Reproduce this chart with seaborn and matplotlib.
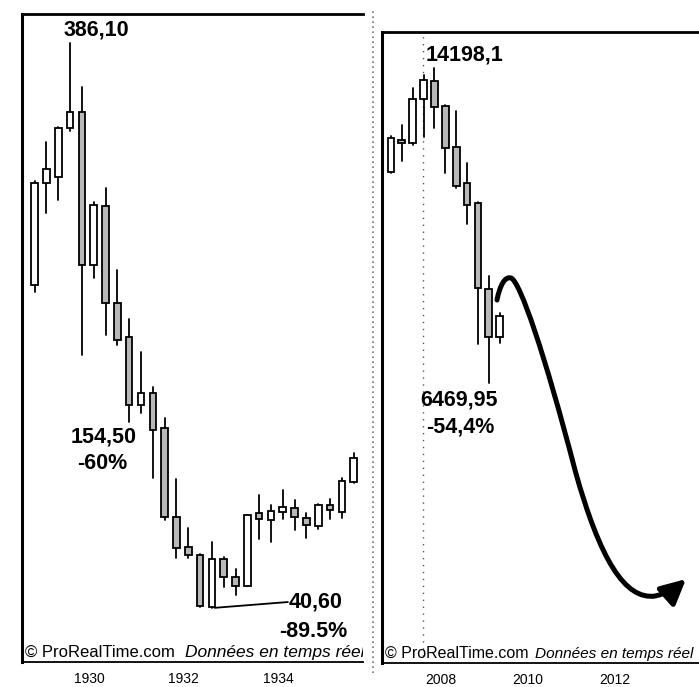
import numpy as np
import pandas as pd
import matplotlib
matplotlib.use("Agg")
import matplotlib.pyplot as plt
import seaborn as sns
from matplotlib.path import Path
from matplotlib.patches import FancyArrowPatch
from matplotlib.lines import Line2D

# Dow Jones, chandeliers trimestriels 1928-1935
quarters_1929 = ["1928-Q4", "1929-Q1", "1929-Q2", "1929-Q3", "1929-Q4",
                 "1930-Q1", "1930-Q2", "1930-Q3", "1930-Q4",
                 "1931-Q1", "1931-Q2", "1931-Q3", "1931-Q4",
                 "1932-Q1", "1932-Q2", "1932-Q3", "1932-Q4",
                 "1933-Q1", "1933-Q2", "1933-Q3", "1933-Q4",
                 "1934-Q1", "1934-Q2", "1934-Q3", "1934-Q4",
                 "1935-Q1", "1935-Q2", "1935-Q3"]
open_1929 = [238.2, 300.6, 304.2, 334.2, 344.0, 250.4, 286.5, 227.1, 206.4,
             164.8, 172.1, 150.7, 96.3, 77.9, 73.0, 41.2, 70.6, 59.6, 54.1,
             98.7, 94.4, 99.3, 101.8, 95.6, 90.8, 103.6, 99.3, 117.7]
high_1929 = [301.8, 325.6, 335.0, 386.1, 359.3, 288.9, 297.5, 247.3, 217.4,
             197.2, 175.8, 156.8, 119.5, 89.5, 73.5, 81.0, 71.8, 64.5, 97.8,
             109.7, 103.6, 112.8, 106.7, 98.7, 104.0, 107.3, 120.1, 135.4]
low_1929 = [233.9, 282.2, 290.1, 332.3, 195.3, 242.4, 207.6, 201.5, 154.5,
            159.9, 120.1, 94.4, 71.2, 71.2, 41.2, 40.6, 53.4, 48.5, 53.8,
            82.8, 81.0, 95.0, 88.3, 83.4, 88.9, 95.0, 95.6, 117.2]
close_1929 = [300.6, 309.1, 334.2, 344.0, 250.4, 287.1, 227.1, 204.5, 164.8,
              172.1, 149.5, 96.3, 77.3, 73.0, 41.8, 70.6, 59.6, 54.1, 97.5,
              95.0, 99.9, 102.4, 96.3, 91.4, 103.6, 100.5, 118.3, 132.3]

# Dow Jones, chandeliers trimestriels 2006-2009
quarters_2008 = ["2006-Q4", "2007-Q1", "2007-Q2", "2007-Q3", "2007-Q4",
                 "2008-Q1", "2008-Q2", "2008-Q3", "2008-Q4",
                 "2009-Q1", "2009-Q2"]
open_2008 = [11646, 12431, 12357, 13436, 13878, 13265, 12259, 11376, 10885, 8776, 7598]
high_2008 = [12529, 12799, 13706, 14025, 14198.1, 13290, 13142, 11867, 10900, 9095, 8187]
low_2008 = [11620, 11916, 12300, 12504, 12725, 11621, 11253, 10370, 7427, 6469.95, 7451]
close_2008 = [12480, 12357, 13436, 13903, 13240, 12234, 11302, 10836, 8800, 7598, 8113]

years_1929 = [1930, 1932, 1934]
years_2008 = [2008, 2010, 2012]

# fleche de projection dessinee a la main (annee, points)
proj_years = [2009.287, 2009.356, 2009.471, 2009.609, 2009.816, 2010.391, 2011.080,
              2011.655, 2012.230, 2012.920, 2013.218, 2013.425, 2013.632]
proj_points = [8506, 8874, 9095, 9046, 8972, 7157, 4336,
               2128, 1147, 1245, 1319, 1466, 1662]

GRAY = "#b8b8b8"
BIG = dict(fontsize=15.5, fontweight="bold", color="black", ha="center", va="center")


def make_frame(quarters, o, h, l, c):
    df = pd.DataFrame({"quarter": quarters, "open": o, "high": h, "low": l, "close": c})
    yr = df["quarter"].str[:4].astype(int)
    q = df["quarter"].str[-1].astype(int)
    df["x"] = yr + (q - 1) / 4 + 0.1
    df["up"] = df["close"] >= df["open"]
    return df


def draw_candles(ax, df, width):
    wicks = pd.concat([
        df[["x", "quarter"]].assign(price=df["low"]),
        df[["x", "quarter"]].assign(price=df["high"]),
    ])
    sns.lineplot(data=wicks, x="x", y="price", units="quarter", estimator=None,
                 color="black", lw=1.3, ax=ax, zorder=1, sort=False)
    bottom = np.minimum(df["open"], df["close"])
    height = (df["close"] - df["open"]).abs()
    colors = np.where(df["up"], "white", GRAY)
    ax.bar(df["x"], height, bottom=bottom, width=width, color=colors,
           edgecolor="black", linewidth=1.3, zorder=2)


def style_axes(ax, ticks):
    ax.set_xticks(ticks)
    ax.set_xticklabels([str(t) for t in ticks], fontsize=10)
    ax.set_yticks([])
    ax.set_xlabel("")
    ax.set_ylabel("")
    ax.tick_params(axis="x", direction="out", length=3, width=1, pad=4.5, colors="black")
    ax.spines["right"].set_visible(False)
    ax.spines["left"].set_linewidth(2.2)
    ax.spines["top"].set_linewidth(2.0)
    ax.spines["bottom"].set_linewidth(1.3)
    for s in ax.spines.values():
        s.set_color("black")


def watermark(ax, x_italic, size_reg, size_it):
    ax.text(0.008, 0.008, "\u00a9 ProRealTime.com", transform=ax.transAxes,
            fontsize=size_reg, va="baseline", ha="left", clip_on=True)
    ax.text(x_italic, 0.008, "Donn\u00e9es en temps r\u00e9el", transform=ax.transAxes,
            fontsize=size_it, style="italic", va="baseline", ha="left", clip_on=True)


sns.set_style("white")
plt.rcParams["font.family"] = ["Liberation Sans", "DejaVu Sans"]
plt.rcParams["text.color"] = "black"

fig = plt.figure(figsize=(6.99, 6.87), dpi=100)
ax1 = fig.add_axes([0.0315, 0.0364, 0.4878, 0.9432])
ax2 = fig.add_axes([0.5465, 0.0349, 0.4535, 0.9185])

# separateur pointille entre les deux captures
fig.add_artist(Line2D([0.533, 0.533], [0.02, 0.985], transform=fig.transFigure,
                      color="#777777", lw=1.2, ls=(0, (1, 2))))

# --- panneau 1929 ---
df1 = make_frame(quarters_1929, open_1929, high_1929, low_1929, close_1929)
draw_candles(ax1, df1, 0.14)
ax1.set_xlim(1928.582, 1935.798)
ax1.set_ylim(7.6, 403.9)
style_axes(ax1, years_1929)

top1 = df1.loc[df1["high"].idxmax()]
ax1.annotate("386,10", xy=(top1["x"], top1["high"]), xytext=(26, 13),
             textcoords="offset pixels", **BIG)
low30 = df1.loc[df1["quarter"] == "1930-Q4"].iloc[0]
ax1.annotate("154,50", xy=(low30["x"], low30["low"]), xytext=(-26, -15),
             textcoords="offset pixels", **BIG)
ax1.annotate("-60%", xy=(low30["x"], low30["low"]), xytext=(-27, -42),
             textcoords="offset pixels", **BIG)
bot1 = df1.loc[df1["low"].idxmin()]
ax1.annotate("", xy=(bot1["x"], bot1["low"]), xytext=(76, 6),
             textcoords="offset pixels",
             arrowprops=dict(arrowstyle="-", color="black", lw=1.3, shrinkA=0, shrinkB=2))
ax1.annotate("40,60", xy=(bot1["x"], bot1["low"]), xytext=(104, 6),
             textcoords="offset pixels", **BIG)
ax1.annotate("-89.5%", xy=(bot1["x"], bot1["low"]), xytext=(101, -23),
             textcoords="offset pixels", **BIG)
watermark(ax1, 0.478, 12, 12.5)

# --- panneau 2008 ---
df2 = make_frame(quarters_2008, open_2008, high_2008, low_2008, close_2008)
draw_candles(ax2, df2, 0.155)
ax2.set_xlim(2006.644, 2013.93)
ax2.set_ylim(-398, 15080)
style_axes(ax2, years_2008)
ax2.axvline(2007.586, color="#555555", lw=1, ls=(0, (1, 4)), zorder=0)

top2 = df2.loc[df2["high"].idxmax()]
ax2.annotate("14198,1", xy=(top2["x"], top2["high"]), xytext=(30, 13),
             textcoords="offset pixels", **BIG)
bot2 = df2.loc[df2["low"].idxmin()]
ax2.annotate("6469,95", xy=(bot2["x"], bot2["low"]), xytext=(-30, -17),
             textcoords="offset pixels", **BIG)
ax2.annotate("-54,4%", xy=(bot2["x"], bot2["low"]), xytext=(-29, -44),
             textcoords="offset pixels", **BIG)

verts = list(zip(proj_years, proj_points))
codes = [Path.MOVETO] + [Path.CURVE4] * (len(verts) - 1)
arrow = FancyArrowPatch(path=Path(verts, codes),
                        arrowstyle="-|>,head_length=15,head_width=7.5",
                        mutation_scale=1, lw=3.6, color="black",
                        transform=ax2.transData, capstyle="round", joinstyle="round")
ax2.add_patch(arrow)
watermark(ax2, 0.482, 11.5, 11.1)

fig.savefig("out.png", dpi=100)
